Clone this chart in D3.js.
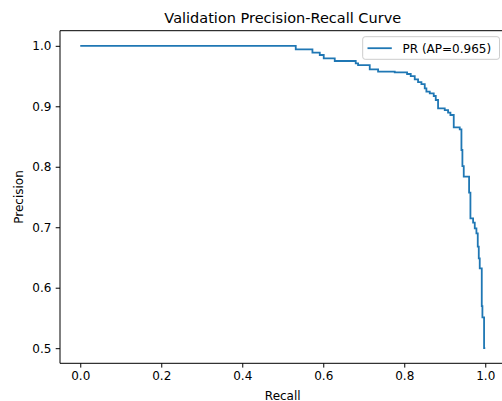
<!DOCTYPE html>
<html>
<head>
<meta charset="utf-8">
<script src="https://cdn.jsdelivr.net/npm/d3@7"></script>
<style>
  html, body { margin: 0; padding: 0; background: #fff; }
  svg { display: block; font-family: "DejaVu Sans", sans-serif; }
</style>
</head>
<body>
<svg id="chart" width="502" height="401"></svg>
<script>
// Data (step-before: precision holds until this recall)
const recall = [0, 0.5321, 0.5733, 0.5914, 0.6012, 0.6284, 0.6802, 0.6860, 0.7148, 0.7354,
  0.7765, 0.8070, 0.8160, 0.8259, 0.8341, 0.8424, 0.8506, 0.8547, 0.8630, 0.8728,
  0.8778, 0.8835, 0.9000, 0.9082, 0.9140, 0.9222, 0.9370, 0.9412, 0.9436, 0.9469,
  0.9601, 0.9634, 0.9700, 0.9741, 0.9782, 0.9815, 0.9840, 0.9864, 0.9914, 0.9930,
  0.9971, 1.0];
const precision = [1.0, 1.0, 0.9942, 0.9886, 0.9848, 0.9793, 0.9749, 0.9710, 0.9682, 0.9611,
  0.9572, 0.9561, 0.9534, 0.9500, 0.9445, 0.9400, 0.9368, 0.9297, 0.9241, 0.9214,
  0.9170, 0.9104, 0.8966, 0.8938, 0.8894, 0.8856, 0.8652, 0.8619, 0.8277, 0.8012,
  0.7836, 0.7571, 0.7147, 0.7075, 0.6981, 0.6899, 0.6678, 0.6485, 0.6320, 0.5697,
  0.5510, 0.5000];
const xTicks = [0.0, 0.2, 0.4, 0.6, 0.8, 1.0];
const yTicks = [0.5, 0.6, 0.7, 0.8, 0.9, 1.0];
const titleText = "Validation Precision-Recall Curve";
const xLabel = "Recall";
const yLabel = "Precision";
const legendLabel = "PR (AP=0.965)";

const color = "#1f77b4";
const mL = 60, mR = 505.5, mT = 30.7, mB = 363.3;

const svg = d3.select("#chart");
const x = d3.scaleLinear().domain([-0.05, 1.05]).range([mL, mR]);
const y = d3.scaleLinear().domain([0.475, 1.025]).range([mB, mT]);

const data = recall.map((r, i) => ({ r, p: precision[i] }));

// Curve
const line = d3.line().x(d => x(d.r)).y(d => y(d.p)).curve(d3.curveStepBefore);
svg.append("path").datum(data)
  .attr("d", line)
  .attr("fill", "none")
  .attr("stroke", color)
  .attr("stroke-width", 1.8)
  .attr("stroke-linejoin", "miter");

// Axes
const fmt = d3.format(".1f");
const xAxis = svg.append("g").attr("transform", `translate(0,${mB})`)
  .call(d3.axisBottom(x).tickValues(xTicks).tickFormat(fmt).tickSizeInner(4.3).tickSizeOuter(0).tickPadding(4.3));
const yAxis = svg.append("g").attr("transform", `translate(${mL},0)`)
  .call(d3.axisLeft(y).tickValues(yTicks).tickFormat(fmt).tickSizeInner(4.3).tickSizeOuter(0).tickPadding(4.3));
[xAxis, yAxis].forEach(g => {
  g.selectAll("text").attr("font-size", "12px").attr("fill", "#000")
    .attr("font-family", "DejaVu Sans, sans-serif");
  g.selectAll("line").attr("stroke", "#000").attr("stroke-width", 1);
  g.select(".domain").remove();
});

// Spines
const frame = svg.append("g").attr("fill", "none").attr("stroke", "#000").attr("stroke-width", 1);
frame.append("line").attr("x1", mL).attr("x2", mL).attr("y1", mT).attr("y2", mB);
frame.append("line").attr("x1", mL).attr("x2", mR).attr("y1", mB).attr("y2", mB);
frame.append("line").attr("x1", mL).attr("x2", mR).attr("y1", mT).attr("y2", mT);
frame.append("line").attr("x1", mR).attr("x2", mR).attr("y1", mT).attr("y2", mB);

// Title & labels
svg.append("text").attr("x", (mL + mR) / 2).attr("y", 22.7)
  .attr("text-anchor", "middle").attr("font-size", "14.5px").attr("fill", "#000").text(titleText);
svg.append("text").attr("x", (mL + mR) / 2).attr("y", 399.5)
  .attr("text-anchor", "middle").attr("font-size", "12px").attr("fill", "#000").text(xLabel);
svg.append("text").attr("transform", `translate(19,${(mT + mB) / 2}) rotate(-90)`)
  .attr("text-anchor", "middle").attr("dy", "0.35em").attr("font-size", "12px").attr("fill", "#000").text(yLabel);

// Legend
const lg = svg.append("g");
lg.append("rect").attr("x", 362.7).attr("y", 36.7).attr("width", 136.8).attr("height", 22.6)
  .attr("rx", 2.5).attr("fill", "#fff").attr("fill-opacity", 0.8)
  .attr("stroke", "#cccccc").attr("stroke-width", 1);
lg.append("line").attr("x1", 367.5).attr("x2", 391.8).attr("y1", 48.2).attr("y2", 48.2)
  .attr("stroke", color).attr("stroke-width", 1.8);
lg.append("text").attr("x", 402.5).attr("y", 48.2).attr("dy", "0.36em")
  .attr("font-size", "12px").attr("fill", "#000").text(legendLabel);
</script>
</body>
</html>
